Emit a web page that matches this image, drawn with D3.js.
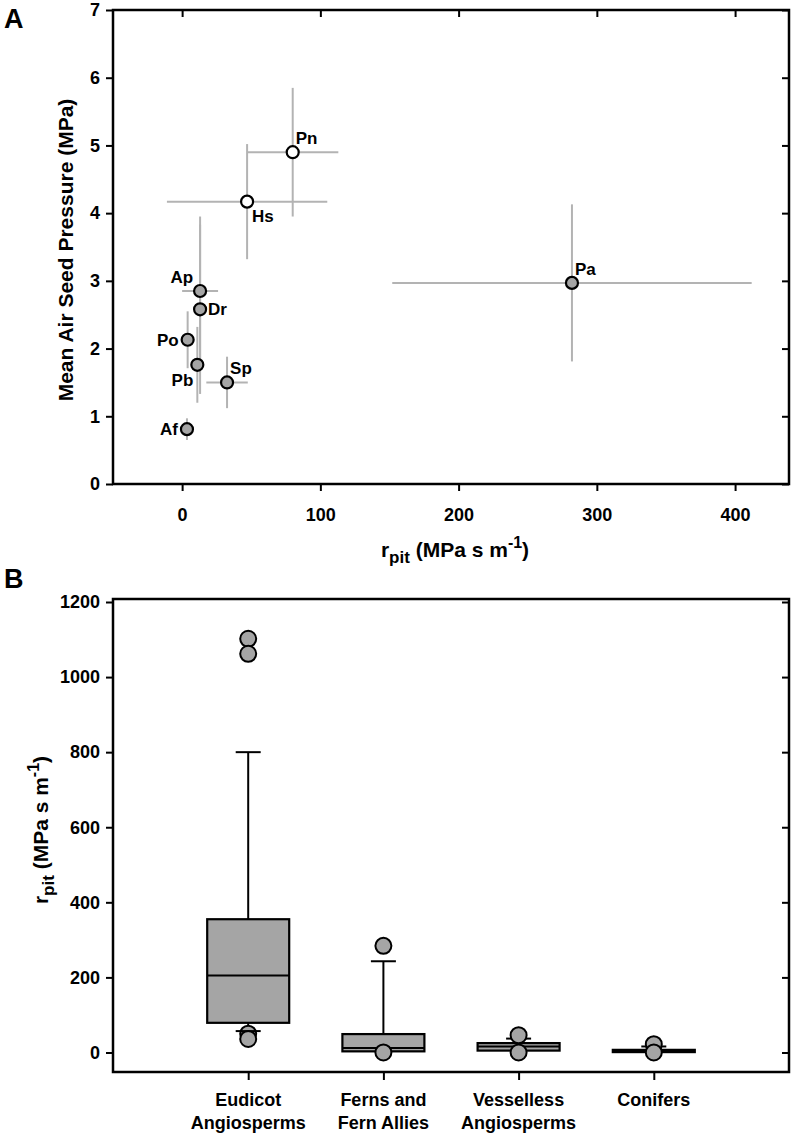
<!DOCTYPE html>
<html><head><meta charset="utf-8">
<script src="https://cdn.jsdelivr.net/npm/d3@7"></script>
<style>
body{margin:0;background:#fff;}
svg text{font-family:"Liberation Sans",Arial,sans-serif;font-weight:bold;fill:#000;}
</style></head>
<body>
<svg id="chart" width="794" height="1135"></svg>
<script>
// ---------- Panel A data ----------
const species = ["Pn","Hs","Ap","Dr","Po","Pb","Sp","Af","Pa"];
const rpit    = [80, 47, 13, 13, 4, 11, 32.5, 3.5, 282];
const rpitErr = [33, 58, 13, 0, 0, 0, 15, 0, 130];
const airSeed = [4.9, 4.17, 2.85, 2.58, 2.13, 1.76, 1.50, 0.81, 2.97];
const airErr  = [0.95, 0.85, 1.1, 1.25, 0.42, 0.56, 0.38, 0.16, 1.16];
const openMarker = ["Pn","Hs"];
const labelSide = {Pn:"ne",Hs:"se",Ap:"nw",Dr:"e",Po:"w",Pb:"sw",Sp:"ne",Af:"w",Pa:"ne"};
const xTicksA = [0,100,200,300,400];
const yTicksA = [0,1,2,3,4,5,6,7];

// ---------- Panel B data ----------
const groups   = [["Eudicot","Angiosperms"],["Ferns and","Fern Allies"],["Vesselless","Angiosperms"],["Conifers"]];
const whiskLo  = [57, 2, 4.5, 0.5];
const q1       = [79, 3, 5, 1];
const median   = [205, 12, 16, 4];
const q3       = [355, 49, 25, 7];
const whiskHi  = [800, 243, 37, 16];
const outliers = [[1102, 1062, 50, 36],[284, 0],[46, 0],[22, 0]];
const yTicksB  = [0,200,400,600,800,1000,1200];

const svg = d3.select("#chart");
const greyFill = "#a5a5a5", errGrey = "#b3b3b3";
const tickFs = 18;

// ===== Panel A =====
const A = {l:113, r:789, t:10, b:484};
const xA = d3.scaleLinear().domain([-50,439]).range([A.l,A.r]);
const yA = d3.scaleLinear().domain([0,7]).range([A.b,A.t]);
const gA = svg.append("g");

function styleAxis(g, fs){
  g.selectAll(".domain").remove();
  g.selectAll(".tick line").attr("stroke","#000").attr("stroke-width",2);
  g.selectAll(".tick text").style("font-size",fs+"px");
}
gA.append("g").attr("transform",`translate(0,${A.b})`)
  .call(d3.axisBottom(xA).tickValues(xTicksA).tickSize(7).tickPadding(17).tickFormat(d3.format("d")))
  .call(g=>styleAxis(g,tickFs));
gA.append("g").attr("transform",`translate(0,${A.t})`)
  .call(d3.axisTop(xA).tickValues(xTicksA).tickSize(-7).tickFormat(""))
  .call(g=>styleAxis(g,tickFs));
gA.append("g").attr("transform",`translate(${A.l},0)`)
  .call(d3.axisLeft(yA).tickValues(yTicksA).tickSize(7).tickPadding(6).tickFormat(d3.format("d")))
  .call(g=>styleAxis(g,tickFs));
gA.append("g").attr("transform",`translate(${A.r},0)`)
  .call(d3.axisRight(yA).tickValues(yTicksA).tickSize(-7).tickFormat(""))
  .call(g=>styleAxis(g,tickFs));
gA.append("rect").attr("x",A.l).attr("y",A.t).attr("width",A.r-A.l).attr("height",A.b-A.t)
  .attr("fill","none").attr("stroke","#000").attr("stroke-width",2.5);

const ptsA = species.map((s,i)=>({s,x:rpit[i],xe:rpitErr[i],y:airSeed[i],ye:airErr[i]}));
const eb = gA.append("g").attr("stroke",errGrey).attr("stroke-width",2);
ptsA.forEach(d=>{
  if(d.xe>0) eb.append("line").attr("x1",xA(d.x-d.xe)).attr("x2",xA(d.x+d.xe)).attr("y1",yA(d.y)).attr("y2",yA(d.y));
  if(d.ye>0) eb.append("line").attr("x1",xA(d.x)).attr("x2",xA(d.x)).attr("y1",yA(d.y-d.ye)).attr("y2",yA(d.y+d.ye));
});
gA.append("g").selectAll("circle").data(ptsA).join("circle")
  .attr("cx",d=>xA(d.x)).attr("cy",d=>yA(d.y)).attr("r",6)
  .attr("fill",d=>openMarker.includes(d.s)?"#fff":greyFill)
  .attr("stroke","#000").attr("stroke-width",2.2);
const off = {ne:[3,-8,"start"],se:[5,20,"start"],nw:[-7,-8,"end"],e:[8,6,"start"],w:[-9,6,"end"],sw:[-4,21,"end"]};
gA.append("g").selectAll("text").data(ptsA).join("text")
  .attr("x",d=>xA(d.x)+off[labelSide[d.s]][0]).attr("y",d=>yA(d.y)+off[labelSide[d.s]][1])
  .attr("text-anchor",d=>off[labelSide[d.s]][2]).style("font-size","17px").text(d=>d.s);

// axis titles A
gA.append("text").attr("transform","translate(73,250) rotate(-90)").attr("text-anchor","middle")
  .style("font-size","21px").text("Mean Air Seed Pressure (MPa)");
const tx = gA.append("text").attr("x",455).attr("y",557).attr("text-anchor","middle").style("font-size","21px");
tx.append("tspan").text("r");
tx.append("tspan").attr("dy",6).style("font-size","17px").text("pit");
tx.append("tspan").attr("dy",-6).text(" (MPa s m");
tx.append("tspan").attr("dy",-9).style("font-size","16px").text("-1");
tx.append("tspan").attr("dy",9).text(")");
svg.append("text").attr("x",4).attr("y",28).style("font-size","27px").text("A");

// ===== Panel B =====
const B = {l:113, r:789, t:599, b:1072};
const xB = d3.scalePoint().domain(groups.map(g=>g.join(" "))).range([B.l,B.r]).padding(1);
const yB = d3.scaleLinear().domain([-52,1208]).range([B.b,B.t]);
const gB = svg.append("g");
gB.append("g").attr("transform",`translate(0,${B.b})`)
  .call(d3.axisBottom(xB).tickSize(8).tickFormat(""))
  .call(g=>styleAxis(g,tickFs));
gB.append("g").attr("transform",`translate(${B.l},0)`)
  .call(d3.axisLeft(yB).tickValues(yTicksB).tickSize(7).tickPadding(6).tickFormat(d3.format("d")))
  .call(g=>styleAxis(g,tickFs));
gB.append("g").attr("transform",`translate(${B.r},0)`)
  .call(d3.axisRight(yB).tickValues(yTicksB).tickSize(-7).tickFormat(""))
  .call(g=>styleAxis(g,tickFs));
gB.append("rect").attr("x",B.l).attr("y",B.t).attr("width",B.r-B.l).attr("height",B.b-B.t)
  .attr("fill","none").attr("stroke","#000").attr("stroke-width",2.5);

const boxW = 82, capW = 25;
groups.forEach((g,i)=>{
  const cx = xB(g.join(" "));
  const bg = gB.append("g");
  bg.append("line").attr("x1",cx).attr("x2",cx).attr("y1",yB(q3[i])).attr("y2",yB(whiskHi[i])).attr("stroke","#000").attr("stroke-width",2);
  bg.append("line").attr("x1",cx).attr("x2",cx).attr("y1",yB(q1[i])).attr("y2",yB(whiskLo[i])).attr("stroke","#000").attr("stroke-width",2);
  bg.append("line").attr("x1",cx-capW/2).attr("x2",cx+capW/2).attr("y1",yB(whiskHi[i])).attr("y2",yB(whiskHi[i])).attr("stroke","#000").attr("stroke-width",2);
  bg.append("rect").attr("x",cx-boxW/2).attr("width",boxW).attr("y",yB(q3[i])).attr("height",Math.max(0,yB(q1[i])-yB(q3[i])))
    .attr("fill",greyFill).attr("stroke","#000").attr("stroke-width",2.2);
  bg.append("line").attr("x1",cx-boxW/2).attr("x2",cx+boxW/2).attr("y1",yB(median[i])).attr("y2",yB(median[i])).attr("stroke","#000").attr("stroke-width",2);
  bg.selectAll("circle").data(outliers[i]).join("circle")
    .attr("cx",cx).attr("cy",d=>yB(d)).attr("r",8)
    .attr("fill",greyFill).attr("stroke","#000").attr("stroke-width",2);
  if(i===0){
    bg.append("line").attr("x1",cx-capW/2).attr("x2",cx+capW/2).attr("y1",yB(whiskLo[i])).attr("y2",yB(whiskLo[i])).attr("stroke","#000").attr("stroke-width",2);
  }
  const t = bg.append("text").attr("x",cx).attr("y",B.b+34).attr("text-anchor","middle").style("font-size","18px");
  g.forEach((line,k)=>t.append("tspan").attr("x",cx).attr("dy",k===0?0:23).text(line));
});

const ty = gB.append("text").attr("transform","translate(48,830) rotate(-90)").attr("text-anchor","middle").style("font-size","21px");
ty.append("tspan").text("r");
ty.append("tspan").attr("dy",6).style("font-size","17px").text("pit");
ty.append("tspan").attr("dy",-6).text(" (MPa s m");
ty.append("tspan").attr("dy",-9).style("font-size","16px").text("-1");
ty.append("tspan").attr("dy",9).text(")");
svg.append("text").attr("x",4).attr("y",588).style("font-size","27px").text("B");
</script>
</body></html>
